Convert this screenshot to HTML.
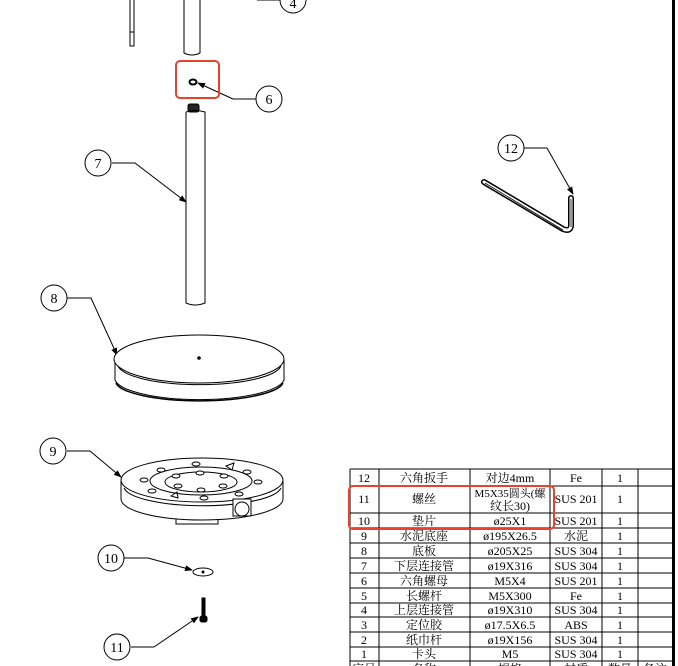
<!DOCTYPE html>
<html><head><meta charset="utf-8"><style>
html,body{margin:0;padding:0;background:#fff;width:678px;height:666px;overflow:hidden}
svg{display:block}
text{font-family:"Liberation Serif","Noto Serif CJK SC",serif}
.b{font-size:14px;fill:#000}
.t{font-size:12px;fill:#000}
</style></head><body>
<svg width="678" height="666" viewBox="0 0 678 666" xmlns="http://www.w3.org/2000/svg">
<defs><marker id="a" markerWidth="8" markerHeight="6" refX="7" refY="3" orient="auto" markerUnits="userSpaceOnUse"><path d="M0,0 L8,3 L0,6z" fill="#000"/></marker></defs>
<g fill="none" stroke="#000" stroke-width="1">
<path d="M130,0 V46 H134 V0 M130,32 H134"/>
<path d="M184,0 V53 Q192,57 200,53 V0"/>
<path d="M257,0 H280"/><circle cx="293" cy="0" r="13" fill="#fff"/>
<ellipse cx="193" cy="82" rx="3.5" ry="2.5" stroke-width="2"/>
<path d="M233,99 H256 M233,99 L198,83" marker-end="url(#a)"/>
<circle cx="269" cy="99" r="13" fill="#fff"/>
<rect x="188" y="104" width="11" height="8" fill="#222" rx="2"/>
<path d="M186,112 V303 Q195,307 205,303 V112 Q195,109 186,112"/>
<path d="M112,163 H135 L186,202" marker-end="url(#a)"/><circle cx="98" cy="163" r="13" fill="#fff"/>
<path d="M67,298 H91 L117,355" marker-end="url(#a)"/><circle cx="54" cy="298" r="13" fill="#fff"/>
<path d="M115,360 V380 A85,22 0 0 0 284,380 V360"/>
<ellipse cx="199" cy="359" rx="85" ry="24" fill="#fff"/>
<path d="M118,366 A82,21 0 0 0 281,366"/>
<path d="M116,383 A84,20 0 0 0 283,383" stroke-width="1.5"/>
<circle cx="199" cy="358" r="1.3" fill="#000"/>
<path d="M67,451 H90 L121,477" marker-end="url(#a)"/><circle cx="53" cy="451" r="13" fill="#fff"/>
<path d="M121,481 V499 A81,21 0 0 0 283,499 V481"/>
<ellipse cx="202" cy="480" rx="81" ry="22" fill="#fff"/>
<path d="M124,488 A79,20 0 0 0 281,488"/>
<ellipse cx="201" cy="481" rx="51" ry="14"/>
<ellipse cx="201" cy="482" rx="36" ry="10"/>
<g fill="#fff">
<ellipse cx="144" cy="480" rx="4" ry="2"/><ellipse cx="161" cy="470" rx="4" ry="2"/><ellipse cx="196" cy="464" rx="4" ry="2"/>
<ellipse cx="247" cy="472" rx="4" ry="2"/><ellipse cx="258" cy="482" rx="4" ry="2"/><ellipse cx="152" cy="491" rx="4" ry="2"/>
<ellipse cx="239" cy="494" rx="4" ry="2"/><ellipse cx="204" cy="498" rx="4" ry="2"/><ellipse cx="176" cy="476" rx="4" ry="2"/>
<ellipse cx="224" cy="476" rx="4" ry="2"/><ellipse cx="178" cy="486" rx="4" ry="2"/><ellipse cx="223" cy="486" rx="4" ry="2"/>
<ellipse cx="200" cy="473" rx="4" ry="2"/><ellipse cx="201" cy="490" rx="4" ry="2"/>
</g>
<path d="M226,466 L234,463 L232,470z M171,496 L177,492 L178,498z"/>
<rect x="233" y="499" width="18" height="17" fill="#fff"/><circle cx="242" cy="509" r="7"/>
<path d="M176,519 V524 H218 V519"/>
<path d="M124,558 H148 L192,570" marker-end="url(#a)"/><circle cx="111" cy="558" r="13" fill="#fff"/>
<ellipse cx="203" cy="572" rx="10" ry="4"/><circle cx="203" cy="572" r="1" fill="#000"/>
<rect x="202" y="598" width="3" height="22" fill="#000"/><rect x="200" y="616" width="7" height="6" fill="#000" rx="2"/>
<path d="M154,647 H131 M154,647 L198,617" marker-end="url(#a)"/><circle cx="117" cy="647" r="13" fill="#fff"/>
<path d="M524,148 H547 L573,194" marker-end="url(#a)"/><circle cx="511" cy="148" r="13" fill="#fff"/>
<path d="M484,182 L563,229 Q570,232 571,226 V198" stroke-width="6" stroke-linecap="round" stroke-linejoin="round"/>
<path d="M484,182 L563,229 Q570,232 571,226 V198" stroke="#fff" stroke-width="3" stroke-linecap="round" stroke-linejoin="round"/>
<path d="M485,183 L563,230 M571,199 V227" stroke-width="0.8"/>
</g>
<g text-anchor="middle" class="b">
<text x="293" y="8">4</text><text x="269" y="104">6</text><text x="98" y="168">7</text><text x="54" y="303">8</text>
<text x="53" y="456">9</text><text x="111" y="563">10</text><text x="117" y="652">11</text><text x="511" y="153">12</text>
</g>
<rect x="672" y="0" width="3" height="666" fill="#000"/>
<g stroke="#000" stroke-width="1" fill="none">
<path d="M350,469 H673 M350,486 H673 M350,513 H673 M350,528 H673 M350,543 H673 M350,558 H673 M350,573 H673 M350,588 H673 M350,603 H673 M350,617 H673 M350,632 H673 M350,647 H673 M350,661 H673"/>
<path d="M350,469 V666 M379,469 V666 M470,469 V666 M550,469 V666 M602,469 V666 M638,469 V666"/>
</g>
<g text-anchor="middle" class="t">
<text x="364" y="482">12</text><text x="424" y="482">六角扳手</text><text x="510" y="482">对边4mm</text><text x="576" y="482">Fe</text><text x="620" y="482">1</text>
<text x="364" y="503">11</text><text x="424" y="503">螺丝</text><text x="510" y="497" style="font-size:11px">M5X35圆头(螺</text><text x="510" y="510">纹长30)</text><text x="576" y="503">SUS 201</text><text x="620" y="503">1</text>
<text x="364" y="525">10</text><text x="424" y="525">垫片</text><text x="510" y="525">ø25X1</text><text x="576" y="525">SUS 201</text><text x="620" y="525">1</text>
<text x="364" y="540">9</text><text x="424" y="540">水泥底座</text><text x="510" y="540">ø195X26.5</text><text x="576" y="540">水泥</text><text x="620" y="540">1</text>
<text x="364" y="555">8</text><text x="424" y="555">底板</text><text x="510" y="555">ø205X25</text><text x="576" y="555">SUS 304</text><text x="620" y="555">1</text>
<text x="364" y="570">7</text><text x="424" y="570">下层连接管</text><text x="510" y="570">ø19X316</text><text x="576" y="570">SUS 304</text><text x="620" y="570">1</text>
<text x="364" y="585">6</text><text x="424" y="585">六角螺母</text><text x="510" y="585">M5X4</text><text x="576" y="585">SUS 201</text><text x="620" y="585">1</text>
<text x="364" y="600">5</text><text x="424" y="600">长螺杆</text><text x="510" y="600">M5X300</text><text x="576" y="600">Fe</text><text x="620" y="600">1</text>
<text x="364" y="614">4</text><text x="424" y="614">上层连接管</text><text x="510" y="614">ø19X310</text><text x="576" y="614">SUS 304</text><text x="620" y="614">1</text>
<text x="364" y="629">3</text><text x="424" y="629">定位胶</text><text x="510" y="629">ø17.5X6.5</text><text x="576" y="629">ABS</text><text x="620" y="629">1</text>
<text x="364" y="644">2</text><text x="424" y="644">纸巾杆</text><text x="510" y="644">ø19X156</text><text x="576" y="644">SUS 304</text><text x="620" y="644">1</text>
<text x="364" y="658">1</text><text x="424" y="658">卡头</text><text x="510" y="658">M5</text><text x="576" y="658">SUS 304</text><text x="620" y="658">1</text>
<text x="364" y="673">序号</text><text x="424" y="673">名称</text><text x="510" y="673">规格</text><text x="576" y="673">材质</text><text x="620" y="673">数量</text><text x="655" y="673">备注</text>
</g>
<rect x="176" y="61" width="43" height="37" rx="4" fill="none" stroke="#e8412c" stroke-width="2"/>
<rect x="349" y="486" width="205" height="43" rx="4" fill="none" stroke="#e8412c" stroke-width="2"/>
</svg>
</body></html>
